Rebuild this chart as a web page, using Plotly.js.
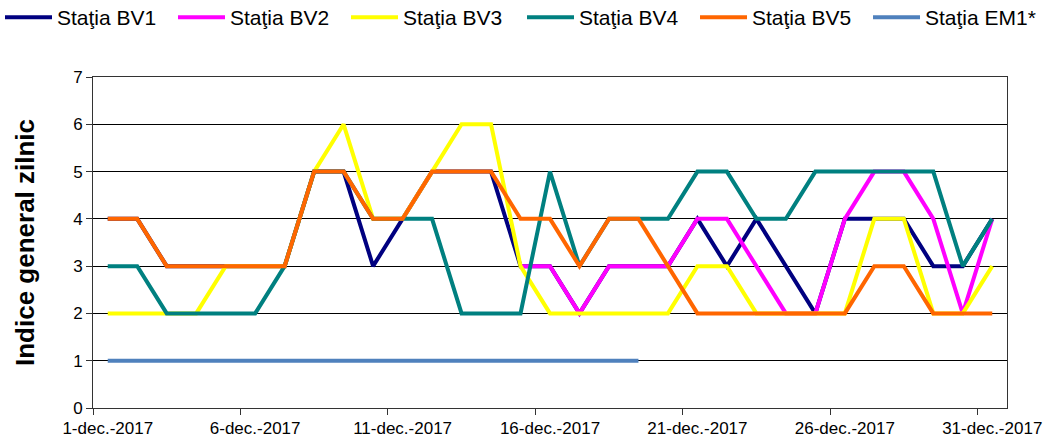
<!DOCTYPE html>
<html>
<head>
<meta charset="utf-8">
<script src="https://cdn.plot.ly/plotly-3.0.1.min.js"></script>
<style>html,body{margin:0;padding:0;background:#fff;}</style>
</head>
<body>
<div id="chart" style="width:1055px;height:441px;"></div>
<script>
var days = ["1-dec.-2017","2-dec.-2017","3-dec.-2017","4-dec.-2017","5-dec.-2017",
  "6-dec.-2017","7-dec.-2017","8-dec.-2017","9-dec.-2017","10-dec.-2017",
  "11-dec.-2017","12-dec.-2017","13-dec.-2017","14-dec.-2017","15-dec.-2017",
  "16-dec.-2017","17-dec.-2017","18-dec.-2017","19-dec.-2017","20-dec.-2017",
  "21-dec.-2017","22-dec.-2017","23-dec.-2017","24-dec.-2017","25-dec.-2017",
  "26-dec.-2017","27-dec.-2017","28-dec.-2017","29-dec.-2017","30-dec.-2017",
  "31-dec.-2017"];
var bv1 = [4,4,3,3,3,3,3,5,5,3, 4,5,5,5,3,3,2,3,3,3, 4,3,4,3,2,4,4,4,3,3, 4];
var bv2 = [null,null,null,null,null,null,null,null,null,null, null,null,null,null,3,3,2,3,3,3, 4,4,3,2,2,4,5,5,4,2, 4];
var bv3 = [2,2,2,2,3,3,3,5,6,4, 4,5,6,6,3,2,2,2,2,2, 3,3,2,2,2,2,4,4,2,2, 3];
var bv4 = [3,3,2,2,2,2,3,5,5,4, 4,4,2,2,2,5,3,4,4,4, 5,5,4,4,5,5,5,5,5,3, 4];
var bv5 = [4,4,3,3,3,3,3,5,5,4, 4,5,5,5,4,4,3,4,4,3, 2,2,2,2,2,2,3,3,2,2, 2];
var em1 = [1,1,1,1,1,1,1,1,1,1, 1,1,1,1,1,1,1,1,1,null, null,null,null,null,null,null,null,null,null,null, null];

var names = ["Staţia BV1","Staţia BV2","Staţia BV3","Staţia BV4","Staţia BV5","Staţia EM1*"];
var colors = ["#000080","#FF00FF","#FFFF00","#008080","#FF6600","#4F81BD"];
var legendIds = ["legend","legend","legend","legend2","legend2","legend2"];
var series = [bv1,bv2,bv3,bv4,bv5,em1];

var traces = series.map(function(s,i){
  return {x: days, y: s, name: names[i], type: 'scatter', mode: 'lines',
    line: {color: colors[i], width: 4}, connectgaps: false, hoverinfo: 'skip',
    legend: legendIds[i]};
});

var font = "Liberation Sans, Arial, sans-serif";
function legendBox(x) {
  return {orientation: 'h', xref: 'container', yref: 'container',
    x: x, xanchor: 'left', y: 0.96, yanchor: 'middle',
    font: {family: font, size: 21, color: '#000'}, entrywidth: 111, entrywidthmode: 'pixels',
    itemwidth: 47, traceorder: 'normal', bgcolor: 'rgba(0,0,0,0)'};
}
var layout = {
  width: 1055, height: 441,
  margin: {l: 93, r: 48, t: 77, b: 33, pad: 0},
  paper_bgcolor: '#fff', plot_bgcolor: '#fff',
  font: {family: font, color: '#000', size: 17},
  showlegend: true,
  legend: legendBox(-0.003),
  legend2: legendBox(0.4948),
  xaxis: {type: 'category', range: [-0.5, 30.5], tickmode: 'linear', tick0: 0, dtick: 5,
    tickson: 'boundaries', ticks: 'outside', ticklen: 6, tickcolor: '#333', tickwidth: 1,
    tickangle: 0, ticklabelstandoff: 5,
    showgrid: false, zeroline: false, showline: true, linecolor: '#333', linewidth: 1, mirror: true,
    tickfont: {family: font, size: 17, color: '#000'}, fixedrange: true},
  yaxis: {range: [0, 7], tickmode: 'linear', tick0: 0, dtick: 1, ticks: 'outside', ticklen: 6,
    tickcolor: '#333', showgrid: true, gridcolor: '#000', gridwidth: 1, zeroline: false,
    showline: true, linecolor: '#333', linewidth: 1, mirror: true,
    tickfont: {family: font, size: 17, color: '#000'},
    title: {text: 'Indice general zilnic', font: {family: font, size: 26, color: '#000', weight: 'bold'}, standoff: 31},
    fixedrange: true}
};
Plotly.newPlot('chart', traces, layout, {staticPlot: true, displayModeBar: false});
</script>
</body>
</html>
